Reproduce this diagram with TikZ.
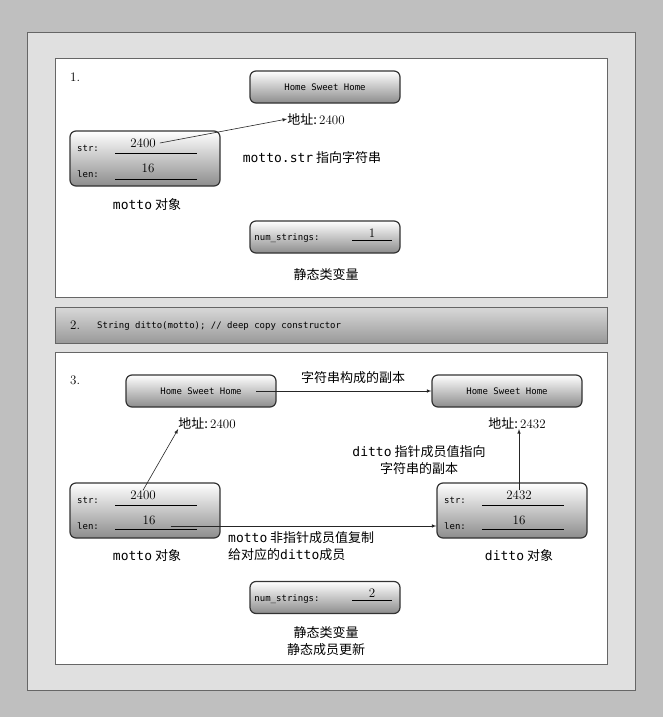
\documentclass[tikz,border=0pt]{standalone}
\usepackage{fontspec}
\newfontfamily\cjk{Noto Sans CJK SC}
\setmonofont{DejaVu Sans Mono}
\usetikzlibrary{positioning, calc, arrows}
\tikzset{membox/.style={draw=black!80, line width=1.2pt, rounded corners=6pt,
    top color=white, bottom color=black!45, minimum width=150pt, inner sep=0pt}}
\tikzset{tag/.style={font=\ttfamily\fontsize{9}{10}\selectfont, inner sep=0pt}}
\tikzset{val/.style={font=\rmfamily\fontsize{13}{14}\selectfont, inner sep=0pt}}
\tikzset{note/.style={font=\cjk\fontsize{13}{17}\selectfont, inner sep=0pt, align=center}}
\tikzset{link/.style={-latex, black!85, line width=0.6pt}}

\begin{document}
\begin{tikzpicture}[x=1pt, y=-1pt]
      % frame and panels
      \fill[black!25] (0,0) rectangle (663,717);
      \draw[black!60, fill=black!12] (27,32) rectangle (635,690);
      \draw[black!60, fill=white] (55,58) rectangle (607,297);
      \draw[black!60, top color=black!15, bottom color=black!40] (55,307) rectangle (607,343);
      \draw[black!60, fill=white] (55,352) rectangle (607,664);
      \useasboundingbox (0,0) rectangle (663,717);

      % part 1
      \node[val, anchor=west] (n1) at (70,77) {1.};
      \node[membox, minimum height=32pt] (hsh) at (325,87) {};
      \node[tag] at (hsh) {Home Sweet Home};
      \node[note] (adr) at (316,119) {地址:\,{\rmfamily 2400}};
      \node[membox, minimum height=55pt] (motto) at (145,158.5) {};
      \node[tag] (s1) at (88,148) {str:};
      \node[tag] (l1) at (88,174) {len:};
      \node[val] (p1) at (143,143) {2400};
      \node[val] (v1) at (148,168) {16};
      \draw (115,153) -- (197,153) (115,179) -- (197,179);
      \draw[link] (p1.east) ++(4,0) -- (adr.west);
      \node[note] (cap1) at (312,158) {{\ttfamily motto.str} 指向字符串};
      \node[note] (obj1) at (147,205) {{\ttfamily motto} 对象};
      \node[membox, minimum height=32pt] (cnt1) at (325,237) {};
      \node[tag] at (287,238) {num\_strings:};
      \node[val] at (372,233) {1};
      \draw (352,240) -- (392,240);
      \node[note] (st1) at (326,275) {静态类变量};

      % part 2
      \node[val, anchor=west] (n2) at (70,325) {2.};
      \node[tag, anchor=west] (code) at (97,326) {String ditto(motto); // deep copy constructor};

      % part 3
      \node[val, anchor=west] (n3) at (70,380) {3.};
      \node[membox, minimum height=32pt] (hshA) at (201,391) {};
      \node[tag] at (hshA) {Home Sweet Home};
      \node[membox, minimum height=32pt] (hshB) at (507,391) {};
      \node[tag] at (hshB) {Home Sweet Home};
      \draw[link] (hshA.center) ++(55,0) -- (hshB.west);
      \node[note] (copy) at (353,378) {字符串构成的副本};
      \node[note] (adrA) at (207,423) {地址:\,{\rmfamily 2400}};
      \node[note] (adrB) at (517,423) {地址:\,{\rmfamily 2432}};

      \node[membox, minimum height=55pt] (motto3) at (145,510.5) {};
      \node[tag] at (88,500) {str:};
      \node[tag] at (88,526) {len:};
      \node[val] (pA) at (143,495) {2400};
      \node[val] (vA) at (149,520) {16};
      \draw (115,505) -- (197,505) (115,529) -- (197,529);

      \node[membox, minimum height=55pt] (ditto) at (512,510.5) {};
      \node[tag] at (455,500) {str:};
      \node[tag] at (455,526) {len:};
      \node[val] (pB) at (519,495) {2432};
      \node[val] (vB) at (519,520) {16};
      \draw (482,505) -- (564,505) (482,529) -- (564,529);

      \draw[link] (pA.north) -- (adrA.south west);
      \draw[link] (pB.north) -- (pB.north |- adrB.south);
      \draw[link] (vA.east) ++(15,6) -- (ditto.west |- 0,526);
      \node[note] (capB) at (419,460) {{\ttfamily ditto} 指针成员值指向\\字符串的副本};
      \node[note, align=left, anchor=north west] (capA) at (228,531) {{\ttfamily motto} 非指针成员值复制\\给对应的{\ttfamily ditto}成员};
      \node[note] (obj3) at (147,556) {{\ttfamily motto} 对象};
      \node[note] (obj4) at (519,556) {{\ttfamily ditto} 对象};

      \node[membox, minimum height=32pt] (cnt3) at (325,597.5) {};
      \node[tag] at (287,599) {num\_strings:};
      \node[val] at (372,593) {2};
      \draw (352,600) -- (392,600);
      \node[note] (st3) at (326,641) {静态类变量\\静态成员更新};
\end{tikzpicture}
\end{document}
